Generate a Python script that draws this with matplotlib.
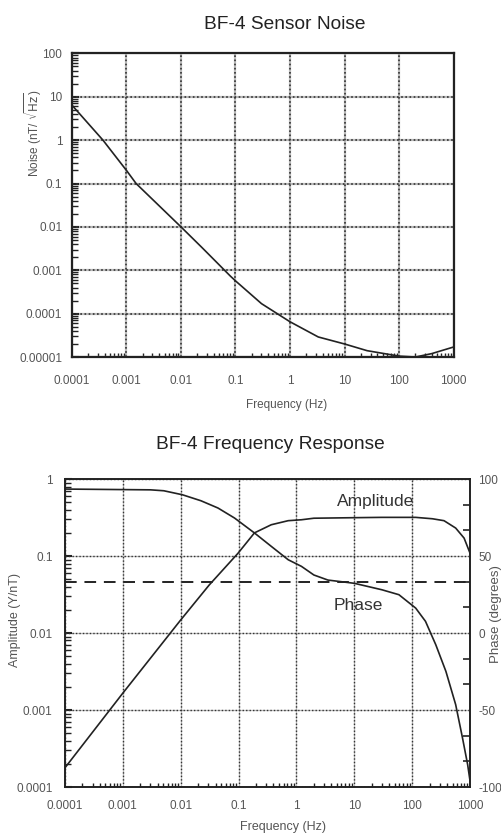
import matplotlib
matplotlib.use("Agg")
import matplotlib.pyplot as plt
from matplotlib.ticker import FixedLocator, FixedFormatter, LogLocator, NullFormatter, AutoMinorLocator

# --- data ---
noise_freq = [1e-4, 3.7e-4, 1e-3, 1.5e-3, 4.7e-3, 1e-2, 2.45e-2, 8e-2, 1e-1, 3e-1,
              1, 3.3, 10, 26, 100, 200, 400, 1000]
noise_val = [6.4, 1.0, 0.2, 0.1, 0.025, 0.01, 0.0033, 7.4e-4, 5.7e-4, 1.7e-4,
             6.5e-5, 2.9e-5, 2.0e-5, 1.4e-5, 1.05e-5, 1.0e-5, 1.2e-5, 1.7e-5]

amp_freq = [1e-4, 1e-3, 1e-2, 0.031, 0.098, 0.188, 0.367, 0.72, 1.22, 2, 10, 30, 115,
            224, 355, 565, 790, 1000]
amp_val = [1.78e-4, 1.66e-3, 0.0148, 0.042, 0.109, 0.2, 0.255, 0.288, 0.296, 0.31,
           0.315, 0.318, 0.318, 0.305, 0.288, 0.231, 0.171, 0.109]

phase_freq = [1e-4, 3e-3, 5.1e-3, 1.07e-2, 2.24e-2, 4.4e-2, 8.5e-2, 0.188, 0.367, 0.72,
              1.22, 2, 3.5, 10, 30, 59, 115, 170, 256, 383, 565, 740, 910, 1000]
phase_val = [93.5, 93, 92.4, 89.8, 85.9, 81.2, 74.7, 65, 56.3, 47.6,
             43.3, 37.7, 34.4, 32.3, 28.1, 24.9, 16.2, 7.6, -7.6, -24.9, -46.5, -68, -85.5, -96]
phase_ref = 33  # dashed reference line

freq_ticks = [1e-4, 1e-3, 1e-2, 1e-1, 1, 10, 100, 1000]
freq_labels = ["0.0001", "0.001", "0.01", "0.1", "1", "10", "100", "1000"]
noise_ticks = [1e-5, 1e-4, 1e-3, 1e-2, 1e-1, 1, 10, 100]
noise_labels = ["0.00001", "0.0001", "0.001", "0.01", "0.1", "1", "10", "100"]
amp_ticks = [1e-4, 1e-3, 1e-2, 1e-1, 1]
amp_labels = ["0.0001", "0.001", "0.01", "0.1", "1"]
phase_ticks = [-100, -50, 0, 50, 100]
phase_labels = ["-100", "-50", "0", "50", "100"]

LINE = "#222222"
TICKC = "#555555"
plt.rcParams["font.family"] = ["Liberation Sans", "DejaVu Sans"]
TITLE_FONT = ["Liberation Sans Narrow", "Liberation Sans", "DejaVu Sans"]

fig = plt.figure(figsize=(5.02, 8.33), dpi=100)


def style_log_axis(ax, axis, ticks, labels):
    a = ax.xaxis if axis == "x" else ax.yaxis
    a.set_major_locator(FixedLocator(ticks))
    a.set_major_formatter(FixedFormatter(labels))
    a.set_minor_locator(LogLocator(base=10, subs=range(2, 10), numticks=50))
    a.set_minor_formatter(NullFormatter())


def grid_lines(ax, lw_back, lw_dots):
    # light solid line under a dotted dark one, like the scanned grid
    ax.grid(True, which="major", color="#bbbbbb", lw=lw_back, ls="-")
    for t in ax.get_xticks():
        ax.axvline(t, color="#333333", lw=lw_dots, ls=(0, (1, 1.5)), zorder=1)
    for t in ax.get_yticks():
        ax.axhline(t, color="#333333", lw=lw_dots, ls=(0, (1, 1.5)), zorder=1)


# ---------------- top: sensor noise ----------------
ax = fig.add_axes([0.1434, 0.5714, 0.760, 0.3645])
ax.plot(noise_freq, noise_val, color=LINE, lw=1.2, zorder=3)
ax.set_xscale("log")
ax.set_yscale("log")
ax.set_xlim(1e-4, 1e3)
ax.set_ylim(1e-5, 1e2)
style_log_axis(ax, "x", freq_ticks, freq_labels)
style_log_axis(ax, "y", noise_ticks, noise_labels)
ax.tick_params(which="both", direction="in", colors=LINE, labelcolor=TICKC, labelsize=8.5,
               top=False, right=False)
ax.tick_params(axis="x", which="major", length=0, pad=13)
ax.tick_params(axis="x", which="minor", length=3, width=1)
ax.tick_params(axis="y", which="major", length=5, width=1.5, pad=7)
ax.tick_params(axis="y", which="minor", length=4, width=1)
for s in ax.spines.values():
    s.set_linewidth(1.6)
    s.set_color(LINE)
ax.set_axisbelow(True)
grid_lines(ax, 1.6, 1.2)

fig.text(0.568, 0.970, "BF-4 Sensor Noise", ha="center", va="center",
         fontsize=13.8, family=TITLE_FONT, color="#222222")
fig.text(0.570, 0.514, "Frequency (Hz)", ha="center", va="center", fontsize=8.5, color=TICKC)
fig.text(0.066, 0.840, r"Noise (nT/ $\sqrt{\mathrm{Hz}}$)", ha="center", va="center",
         rotation=90, fontsize=8.5, color=TICKC)

# ---------------- bottom: frequency response ----------------
bx = fig.add_axes([0.1295, 0.0552, 0.8068, 0.3697])
bx.plot(amp_freq, amp_val, color=LINE, lw=1.2, zorder=3)
bx.set_xscale("log")
bx.set_yscale("log")
bx.set_xlim(1e-4, 1e3)
bx.set_ylim(1e-4, 1)
style_log_axis(bx, "x", freq_ticks, freq_labels)
style_log_axis(bx, "y", amp_ticks, amp_labels)
bx.tick_params(which="both", direction="in", colors=LINE, labelcolor=TICKC, labelsize=8.5,
               top=False, right=False)
bx.tick_params(axis="x", which="major", length=0, pad=9)
bx.tick_params(axis="x", which="minor", length=3, width=1)
bx.tick_params(axis="y", which="major", length=5, width=1.5, pad=9)
bx.tick_params(axis="y", which="minor", length=4, width=1)
for s in bx.spines.values():
    s.set_linewidth(1.4)
    s.set_color(LINE)
bx.set_axisbelow(True)
grid_lines(bx, 0.9, 1.0)

px = bx.twinx()
px.plot(phase_freq, phase_val, color=LINE, lw=1.2, zorder=3)
px.axhline(phase_ref, color=LINE, lw=1.4, ls=(0, (6, 4)), zorder=2)
px.set_ylim(-100, 100)
px.yaxis.set_major_locator(FixedLocator(phase_ticks))
px.yaxis.set_major_formatter(FixedFormatter(phase_labels))
px.yaxis.set_minor_locator(AutoMinorLocator(3))
px.tick_params(which="both", direction="in", colors=LINE, labelcolor=TICKC, labelsize=8.5)
px.tick_params(axis="y", which="major", length=0, pad=6)
px.tick_params(axis="y", which="minor", length=5, width=1.2)
for s in px.spines.values():
    s.set_visible(False)

bx.text(23, 0.507, "Amplitude", ha="center", va="center", fontsize=12.5, color="#333333")
bx.text(11.7, 0.0226, "Phase", ha="center", va="center", fontsize=12.5, color="#333333")

fig.text(0.539, 0.4658, "BF-4 Frequency Response", ha="center", va="center",
         fontsize=13.8, family=TITLE_FONT, color="#222222")
fig.text(0.564, 0.007, "Frequency (Hz)", ha="center", va="center", fontsize=9, color=TICKC)
fig.text(0.030, 0.256, "Amplitude (Y/nT)", ha="center", va="center", rotation=90,
         fontsize=9, color=TICKC)
fig.text(0.988, 0.263, "Phase (degrees)", ha="center", va="center", rotation=90,
         fontsize=9.5, color=TICKC)

fig.savefig("out.png", dpi=100)
